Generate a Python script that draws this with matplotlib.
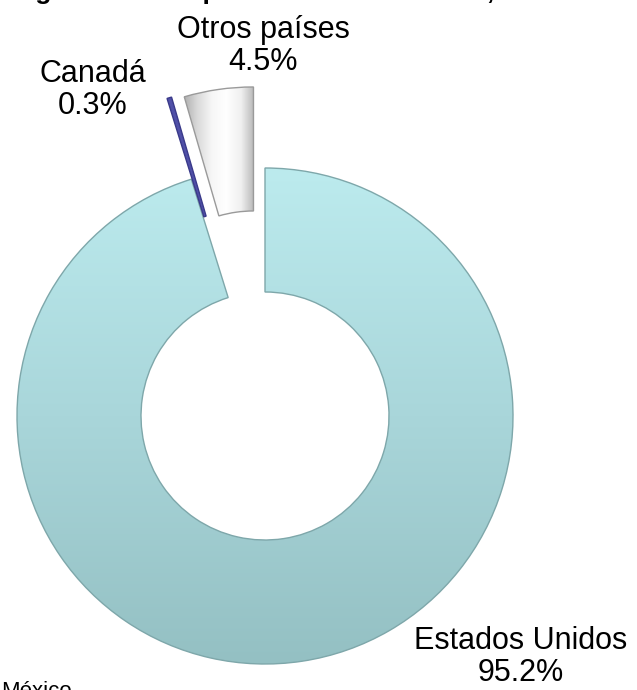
import numpy as np
import matplotlib
matplotlib.use("Agg")
import matplotlib.pyplot as plt
from matplotlib.colors import LinearSegmentedColormap

# data
countries = ["Estados Unidos", "Canadá", "Otros países"]
shares = [95.2, 0.3, 4.5]
share_labels = ["95.2%", "0.3%", "4.5%"]
explode = [0, 0.34, 0.33]

title = "Origen de las importaciones de México, 2013"
footer = "México"

W, H = 637, 690
CX, CY, R = 265, 416, 248  # donut centre and radius in pixels


def px(x, y):
    """pixel position (top-left origin) -> data coordinates of the pie axes"""
    return (x - CX) / R, (CY - y) / R


plt.rcParams["font.family"] = ["Liberation Sans", "DejaVu Sans"]

fig = plt.figure(figsize=(W / 100, H / 100), dpi=100)
ax = fig.add_axes([0, 0, 1, 1])

wedges, _ = ax.pie(
    shares,
    explode=explode,
    startangle=90,
    counterclock=False,
    radius=1,
    colors=["none", "#5050A8", "none"],
    wedgeprops=dict(width=0.5, linewidth=1.0),
)
wedges[0].set_edgecolor("#7EA7AA")
wedges[1].set_edgecolor("#3A3A8A")
wedges[2].set_edgecolor("#9A9A9A")

# gradient fills clipped to the wedges
us_cmap = LinearSegmentedColormap.from_list("us", ["#94C0C3", "#A9D6DA", "#BCEBEE"])
grad_v = np.linspace(0, 1, 256).reshape(-1, 1)
im = ax.imshow(grad_v, cmap=us_cmap, origin="lower", extent=(-1, 1, -1, 1),
               aspect="auto", zorder=0.5)
im.set_clip_path(wedges[0])

oth_cmap = LinearSegmentedColormap.from_list(
    "oth", ["#A8A8A8", "#D8D8D8", "#F6F6F6", "#FFFFFF", "#F0F0F0", "#B0B0B0"])
grad_h = np.linspace(0, 1, 256).reshape(1, -1)
x0, y0 = px(182, 80)
x1, y1 = px(256, 218)
im2 = ax.imshow(grad_h, cmap=oth_cmap, origin="lower", extent=(x0, x1, y1, y0),
                aspect="auto", zorder=0.5)
im2.set_clip_path(wedges[2])

ax.set_xlim(px(0, 0)[0], px(W, 0)[0])
ax.set_ylim(px(0, H)[1], px(0, 0)[1])
ax.set_aspect("equal")
ax.axis("off")

lab_pos = [(521, 657), (93, 90), (263, 46)]
for name, lab, (lx, ly) in zip(countries, share_labels, lab_pos):
    tx, ty = px(lx, ly)
    ax.text(tx, ty, name + "\n" + lab, ha="center", va="center",
            fontsize=22, linespacing=1.1, color="black")

tx, ty = px(-3, -1)
ax.text(tx, ty, title, ha="left", va="baseline", fontsize=19,
        fontweight="bold", clip_on=False)
tx, ty = px(1, 681)
ax.text(tx, ty, footer, ha="left", va="top", fontsize=16, clip_on=False)

fig.savefig("out.png", dpi=100)
